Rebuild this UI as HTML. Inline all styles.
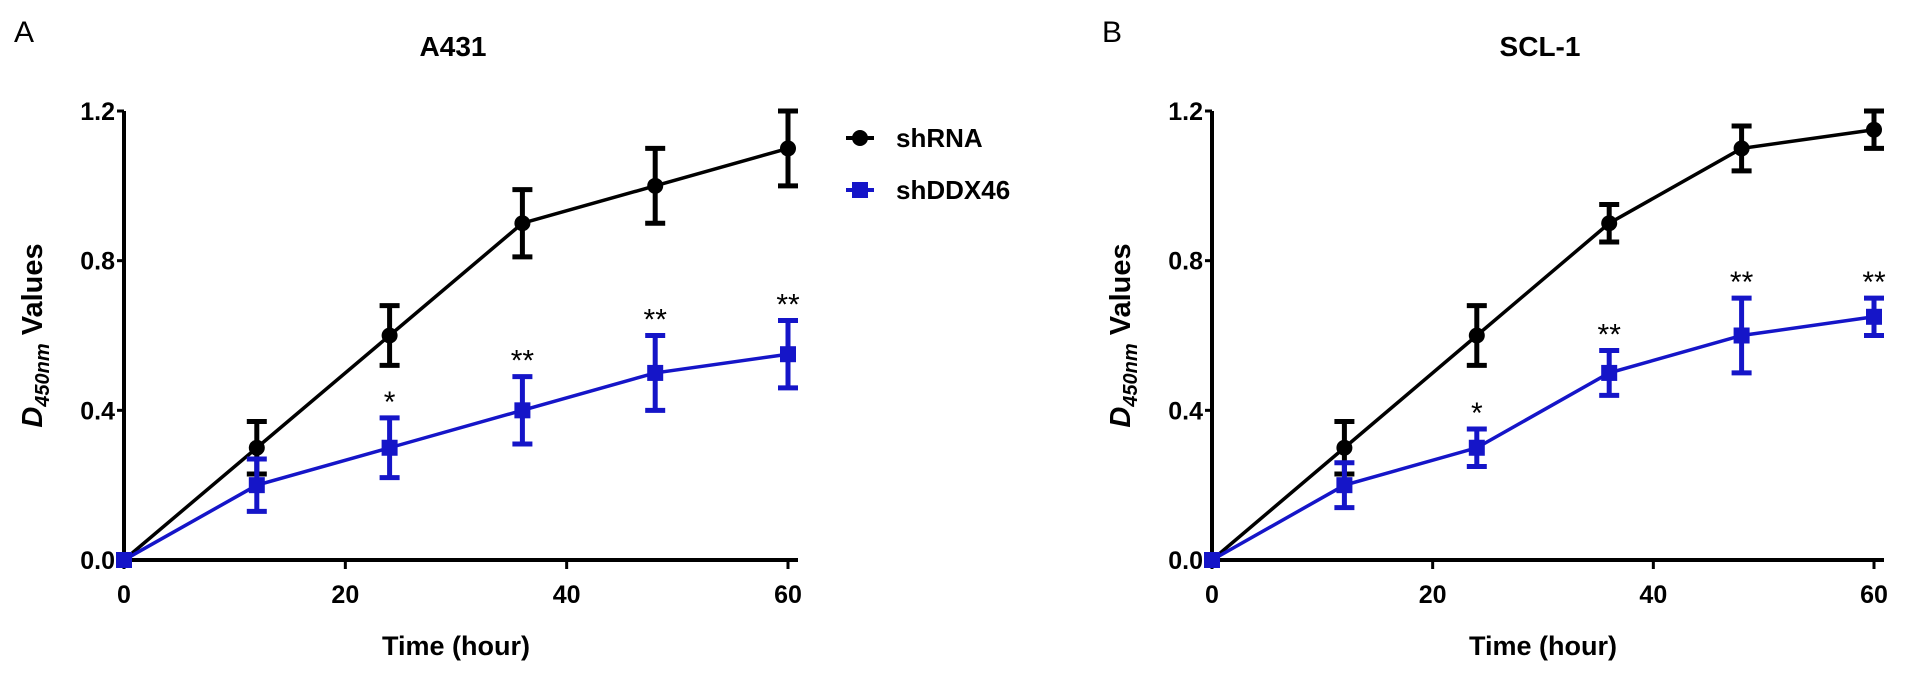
<!DOCTYPE html>
<html><head><meta charset="utf-8"><style>
body{margin:0;background:#fff;width:1913px;height:676px;overflow:hidden}
svg text{font-family:"Liberation Sans",Arial,sans-serif}
</style></head><body>
<svg id="chart" width="1913" height="676" viewBox="0 0 1913 676"></svg>
<script>
const times=[0,12,24,36,48,60];
const aCtrl=[0,0.3,0.6,0.9,1.0,1.1];
const aCtrlErr=[0,0.07,0.08,0.09,0.1,0.1];
const aKd=[0,0.2,0.3,0.4,0.5,0.55];
const aKdErr=[0,0.07,0.08,0.09,0.1,0.09];
const bCtrl=[0,0.3,0.6,0.9,1.1,1.15];
const bCtrlErr=[0,0.07,0.08,0.05,0.06,0.05];
const bKd=[0,0.2,0.3,0.5,0.6,0.65];
const bKdErr=[0,0.06,0.05,0.06,0.1,0.05];
const sigLabels=["","","*","**","**","**"];
const xTicks=[0,20,40,60];
const yTicks=[0.0,0.4,0.8,1.2];
const NS="http://www.w3.org/2000/svg";
const svg=document.getElementById('chart');
function mk(t,a,p){const e=document.createElementNS(NS,t);for(const k in a)e.setAttribute(k,a[k]);(p||svg).appendChild(e);return e;}
function panel(name,x0,x1,title,letter,ctrl,ctrlErr,kd,kdErr,legend){
  const y0=560,y1=111;
  const g=mk('g',{});
  
  
  const X=v=>x0+(x1-x0)*v/60, Y=v=>y0-(y0-y1)*v/1.2;
  const L=mk('text',{x:x0-110,y:42,'font-size':30},g);L.textContent=letter;
  
  const T=mk('text',{x:(x0+x1)/2-3,y:56,'font-size':28,'font-weight':'bold','text-anchor':'middle'},g);T.textContent=title;
  
  const ya=mk('path',{d:`M${x0} ${y1}V${y0}`,stroke:'#000','stroke-width':4,fill:'none'},g);
  
  const xa=mk('path',{d:`M${x0-2} ${y0}H${x1+10}`,stroke:'#000','stroke-width':4,fill:'none'},g);
  
  yTicks.forEach(v=>{mk('path',{d:`M${x0-7} ${Y(v)}H${x0}`,stroke:'#000','stroke-width':3},g);
    const t=mk('text',{x:x0-9,y:Y(v)+9,'font-size':25,'font-weight':'bold','text-anchor':'end'},g);t.textContent=v.toFixed(1);
    });
  xTicks.forEach(v=>{mk('path',{d:`M${X(v)} ${y0}V${y0+9}`,stroke:'#000','stroke-width':3},g);
    const t=mk('text',{x:X(v),y:y0+43,'font-size':25,'font-weight':'bold','text-anchor':'middle'},g);t.textContent=v;
    });
  const xt=mk('text',{x:(x0+x1)/2,y:655,'font-size':27,'font-weight':'bold','text-anchor':'middle'},g);xt.textContent='Time (hour)';
  
  const yt=mk('text',{transform:`translate(${x0-82},${(y0+y1)/2}) rotate(-90)`,'font-size':29,'font-weight':'bold','text-anchor':'middle'},g);
  yt.innerHTML='<tspan font-style="italic">D</tspan><tspan font-style="italic" font-size="20" dy="7">450nm</tspan><tspan dy="-7"> Values</tspan>';
  
  function series(vals,errs,col,sq,nm){
    const s=mk('g',{},g);
    mk('polyline',{points:times.map((t,i)=>X(t)+','+Y(vals[i])).join(' '),fill:'none',stroke:col,'stroke-width':3.5},s);
    times.forEach((t,i)=>{const cx=X(t);
      if(errs[i]>0){const a=Y(vals[i]+errs[i]),b=Y(vals[i]-errs[i]);
        const eb=mk('path',{d:`M${cx} ${a}V${b}M${cx-10} ${a}H${cx+10}M${cx-10} ${b}H${cx+10}`,stroke:col,'stroke-width':5,fill:'none'},s);
        }
      const m=sq?mk('rect',{x:cx-8,y:Y(vals[i])-8,width:16,height:16,fill:col},s):mk('circle',{cx:cx,cy:Y(vals[i]),r:8,fill:col},s);
      
      if(sq&&sigLabels[i]){const st=mk('text',{x:cx,y:Y(vals[i]+errs[i])-6,'font-size':30,'text-anchor':'middle'},s);st.textContent=sigLabels[i];
        }
    });
  }
  series(ctrl,ctrlErr,'#000',false,'shrna');
  series(kd,kdErr,'#1515c8',true,'shddx46');
  if(legend){
    const lg=mk('g',{},g);
    [['shRNA','#000',false,138],['shDDX46','#1515c8',true,190]].forEach(([n,c,sq,y])=>{
      const e=mk('g',{},lg);
      mk('path',{d:`M846 ${y}H874`,stroke:c,'stroke-width':4},e);
      if(sq)mk('rect',{x:852,y:y-8,width:16,height:16,fill:c},e);else mk('circle',{cx:860,cy:y,r:8,fill:c},e);
      const t=mk('text',{x:896,y:y+9,'font-size':26,'font-weight':'bold'},e);t.textContent=n;});
  }
}
panel('a431',124,788,'A431','A',aCtrl,aCtrlErr,aKd,aKdErr,true);
panel('scl1',1212,1874,'SCL-1','B',bCtrl,bCtrlErr,bKd,bKdErr,false);
</script>
</body></html>
